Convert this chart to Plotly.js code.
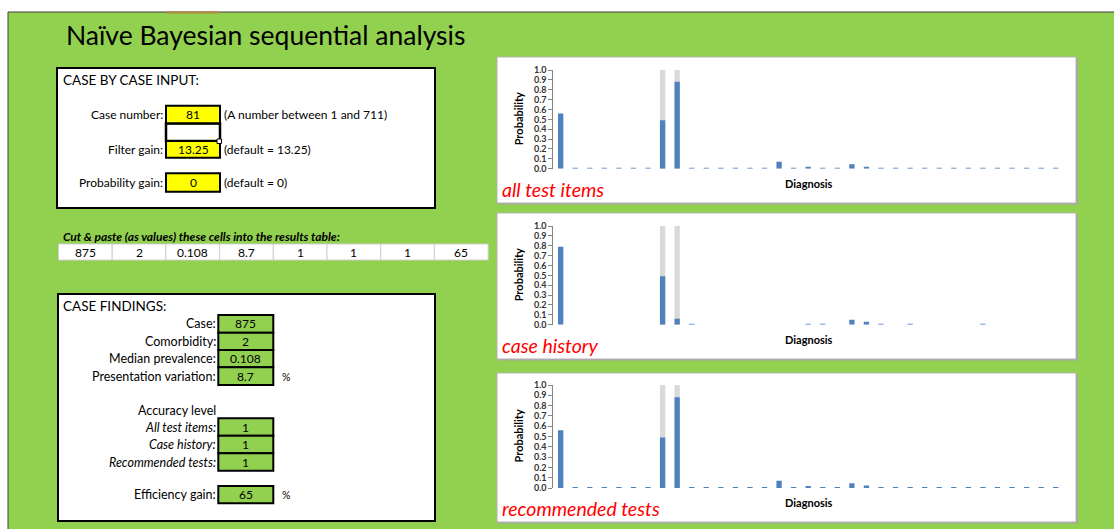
<!DOCTYPE html>
<html>
<head>
<meta charset="utf-8">
<script src="https://cdn.plot.ly/plotly-3.0.1.min.js"></script>
<style>
  html, body { margin: 0; padding: 0; background: #ffffff; }
  #sheet { width: 1114px; height: 529px; }
</style>
</head>
<body>
<div id="sheet"></div>
<script>
// ---- Data ---------------------------------------------------------------
const sheetTitle = 'Naïve Bayesian sequential analysis';

// Diagnosis index (x categories shared by all three charts)
const diagnoses = [1, 2, 3, 4, 5, 6, 7, 8, 9, 10, 11, 12, 13, 14, 15, 16, 17, 18,
                   19, 20, 21, 22, 23, 24, 25, 26, 27, 28, 29, 30, 31, 32, 33, 34, 35];

// Posterior probability per diagnosis
const allTestItems = [0.56, 0.01, 0.01, 0.01, 0.01, 0.01, 0.01, 0.49, 0.88, 0.01,
                      0.01, 0.01, 0.01, 0.01, 0.01, 0.07, 0.01, 0.02, 0.01, 0.01,
                      0.045, 0.02, 0.01, 0.01, 0.01, 0.01, 0.01, 0.01, 0.01, 0.01,
                      0.01, 0.01, 0.01, 0.01, 0.01];
const caseHistory = [0.79, null, null, null, null, null, null, 0.49, 0.06, 0.01,
                     null, null, null, null, null, null, null, 0.01, 0.01, null,
                     0.05, 0.03, 0.01, null, 0.01, null, null, null, null, 0.01,
                     null, null, null, null, null];
const recommendedTests = [0.56, 0.01, 0.01, 0.01, 0.01, 0.01, 0.01, 0.49, 0.88, 0.01,
                          0.01, 0.01, 0.01, 0.01, 0.01, 0.07, 0.01, 0.02, 0.01, 0.01,
                          0.045, 0.025, 0.01, 0.01, 0.01, 0.01, 0.01, 0.01, 0.01, 0.01,
                          0.01, 0.01, 0.01, 0.01, 0.01];
// Confirmed diagnoses of the case (full-height background bars)
const confirmed = [null, null, null, null, null, null, null, 1.0, 1.0, null,
                   null, null, null, null, null, null, null, null, null, null,
                   null, null, null, null, null, null, null, null, null, null,
                   null, null, null, null, null];

const chartLabels = ['all test items', 'case history', 'recommended tests'];
const yTickVals = [0, 0.1, 0.2, 0.3, 0.4, 0.5, 0.6, 0.7, 0.8, 0.9, 1.0];

// Input panel
const inputLabels = ['Case number:', 'Filter gain:', 'Probability gain:'];
const inputValues = ['81', '13.25', '0'];
const inputNotes = ['(A number between 1 and 711)', '(default = 13.25)', '(default = 0)'];

// Results row
const resultsRow = ['875', '2', '0.108', '8.7', '1', '1', '1', '65'];

// Findings panel
const findingLabels = ['Case:', 'Comorbidity:', 'Median prevalence:', 'Presentation variation:'];
const findingValues = ['875', '2', '0.108', '8.7'];
const accuracyLabels = ['All test items:', 'Case history:', 'Recommended tests:'];
const accuracyValues = ['1', '1', '1'];
const efficiencyLabel = 'Efficiency gain:';
const efficiencyValue = '65';

// ---- Page geometry helpers (pixels -> paper) -----------------------------
const W = 1114, H = 529;
const X = v => v / W;
const Y = v => 1 - v / H;
const FONT = 'Lato, "Open Sans", sans-serif';
const GREEN = '#92d050';
const BLUE = '#4f81bd';

const shapes = [];
const annotations = [];

function rect(x0, y0, x1, y1, fill, lineColor, lw) {
  shapes.push({
    type: 'rect', xref: 'paper', yref: 'paper', layer: 'below',
    x0: X(x0), x1: X(x1), y0: Y(y1), y1: Y(y0),
    fillcolor: fill,
    line: { color: lineColor || 'rgba(0,0,0,0)', width: lineColor ? lw : 0 }
  });
}
function line(x0, y0, x1, y1, color, lw) {
  shapes.push({
    type: 'line', xref: 'paper', yref: 'paper', layer: 'below',
    x0: X(x0), x1: X(x1), y0: Y(y0), y1: Y(y1),
    line: { color: color, width: lw }
  });
}
function text(x, y, str, opts) {
  opts = opts || {};
  annotations.push({
    xref: 'paper', yref: 'paper', x: X(x), y: Y(y),
    text: str, showarrow: false,
    xanchor: opts.anchor || 'left', yanchor: 'middle',
    textangle: opts.angle || 0,
    borderpad: 0,
    font: {
      family: FONT, size: opts.size || 12, color: opts.color || '#000000',
      style: opts.italic ? 'italic' : 'normal',
      weight: opts.bold ? 'bold' : 'normal'
    }
  });
}

// ---- Sheet background ----------------------------------------------------
rect(8, 12, 1200, 600, GREEN, '#3f3f3f', 1);
line(166, 12.5, 220, 12.5, '#b08a3a', 2);
text(65, 35, sheetTitle, { size: 26.5 });

// ---- Input panel ---------------------------------------------------------
rect(57, 68, 435, 208, '#ffffff', '#000000', 2);
text(62, 80, 'CASE BY CASE INPUT:', { size: 13.5 });
const inputRows = [[105.7, 123.3], [141, 157.7], [173.3, 191.7]];
// selected (empty) cell between the first two inputs
rect(166, 123.5, 220, 141, '#ffffff', '#000000', 2.5);
line(167.5, 140.6, 218.5, 140.6, '#2c4bd6', 1);
inputRows.forEach((r, i) => {
  rect(166, r[0], 220, r[1], '#ffff00', '#000000', 2);
  text(164, (r[0] + r[1]) / 2, inputLabels[i], { anchor: 'right' });
  text(193, (r[0] + r[1]) / 2, inputValues[i], { anchor: 'center' });
  text(223, (r[0] + r[1]) / 2, inputNotes[i]);
});
rect(217, 139, 221.5, 143.5, '#ffffff', '#000000', 1);

// ---- Results row ---------------------------------------------------------
text(62, 236, 'Cut &amp; paste (as values) these cells into the results table:',
     { size: 12, bold: true, italic: true });
const cellW = 53.7;
resultsRow.forEach((v, i) => {
  const x0 = 58.5 + i * cellW;
  rect(x0, 244, x0 + cellW, 260, '#ffffff', '#d0d0d0', 1);
  text(x0 + cellW / 2, 252.5, v, { anchor: 'center' });
});

// ---- Findings panel ------------------------------------------------------
rect(58, 294, 435, 521, '#ffffff', '#000000', 2);
text(62, 306, 'CASE FINDINGS:', { size: 13.5 });
const findRows = [[315, 332.7], [332.7, 350], [350, 367.3], [367.3, 385]];
findRows.forEach((r, i) => {
  rect(218.3, r[0], 273.3, r[1], GREEN, '#000000', 2);
  text(216.5, (r[0] + r[1]) / 2, findingLabels[i], { anchor: 'right', size: 12.5 });
  text(245.8, (r[0] + r[1]) / 2, findingValues[i], { anchor: 'center' });
});
text(281, 376.5, '%', { size: 10.5 });
text(216.5, 410.7, 'Accuracy level', { anchor: 'right', size: 12.5 });
const accRows = [[418.3, 435.7], [435.7, 453.3], [453.3, 470.7]];
accRows.forEach((r, i) => {
  rect(218.3, r[0], 273.3, r[1], GREEN, '#000000', 2);
  text(216.5, (r[0] + r[1]) / 2, accuracyLabels[i], { anchor: 'right', italic: true, size: 12.5 });
  text(245.8, (r[0] + r[1]) / 2, accuracyValues[i], { anchor: 'center' });
});
rect(218.3, 486, 273.3, 503.3, GREEN, '#000000', 2);
text(216.5, 494.7, efficiencyLabel, { anchor: 'right', size: 12.5 });
text(245.8, 494.7, efficiencyValue, { anchor: 'center' });
text(281, 494.7, '%', { size: 10.5 });

// ---- Charts --------------------------------------------------------------
// box [top, bottom], plot [y of 1.0, y of 0.0]
const charts = [
  { box: [57, 203], plot: [70, 168.7], series: allTestItems },
  { box: [213, 359], plot: [226, 324.7], series: caseHistory },
  { box: [373, 522], plot: [385, 488], series: recommendedTests }
];
const plotLeft = 553.4, plotRight = 1063;

const data = [];
const layout = {
  width: W, height: H,
  margin: { l: 0, r: 0, t: 0, b: 0, pad: 0 },
  paper_bgcolor: '#ffffff',
  plot_bgcolor: 'rgba(0,0,0,0)',
  showlegend: false,
  barmode: 'overlay',
  bargap: 0.635,
  font: { family: FONT },
  shapes: shapes,
  annotations: annotations
};

charts.forEach((c, i) => {
  const sfx = i === 0 ? '' : String(i + 1);
  // chart frame with a soft drop shadow
  rect(498.5, c.box[0] + 1.5, 1078, c.box[1] + 1.5, '#a6a6a6');
  rect(497, c.box[0], 1076, c.box[1], '#ffffff', '#b4b4b4', 1);

  data.push({
    type: 'bar', x: diagnoses, y: confirmed,
    xaxis: 'x' + sfx, yaxis: 'y' + sfx,
    marker: { color: '#d9d9d9', line: { width: 0 } },
    hoverinfo: 'skip'
  });
  data.push({
    type: 'bar', x: diagnoses, y: c.series,
    xaxis: 'x' + sfx, yaxis: 'y' + sfx,
    marker: { color: BLUE, line: { width: 0 } },
    hoverinfo: 'skip'
  });

  layout['xaxis' + sfx] = {
    domain: [X(plotLeft), X(plotRight)],
    range: [0.5, 35.5],
    anchor: 'y' + sfx,
    showticklabels: false, showline: false, showgrid: false,
    zeroline: false, ticks: '', fixedrange: true
  };
  layout['yaxis' + sfx] = {
    domain: [Y(c.plot[1]), Y(c.plot[0])],
    range: [0, 1],
    anchor: 'x' + sfx,
    tickvals: yTickVals,
    tickformat: '.1f',
    ticks: 'outside', ticklen: 4, tickwidth: 1, tickcolor: '#868686',
    showline: true, linecolor: '#868686', linewidth: 1,
    showgrid: false, zeroline: false, fixedrange: true,
    tickfont: { family: FONT, size: 9, color: '#333333', weight: 'bold' }
  };

  const mid = (c.plot[0] + c.plot[1]) / 2;
  text(518, mid, 'Probability', { angle: -90, size: 11, bold: true, anchor: 'center' });
  text(809, c.plot[1] + 14.5, 'Diagnosis', { size: 11, bold: true, anchor: 'center' });
  text(501, c.box[1] - 13.5, chartLabels[i], { size: 19.5, italic: true, color: '#ff0000' });
});

Plotly.newPlot('sheet', data, layout, { staticPlot: true, displayModeBar: false });
</script>
</body>
</html>
